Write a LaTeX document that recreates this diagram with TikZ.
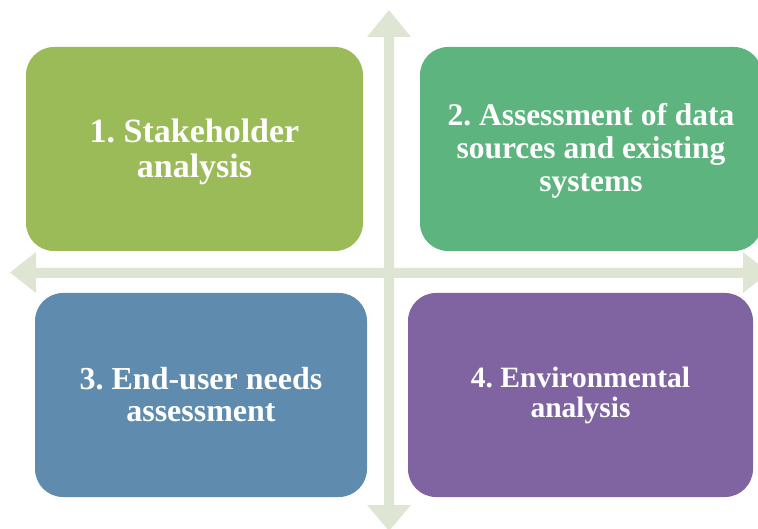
\documentclass[tikz,border=0pt]{standalone}
\usepackage{fontspec}
\setmainfont{Liberation Serif}
\frenchspacing
\definecolor{cgreen}{HTML}{9BBB59}
\definecolor{cteal}{HTML}{5DB47E}
\definecolor{cblue}{HTML}{5F8CAE}
\definecolor{cpurple}{HTML}{8064A2}
\definecolor{carrow}{HTML}{DEE6D3}
\tikzset{
  box/.style={inner sep=0pt, text=white, align=center},
  arrowshape/.style={fill=carrow, draw=none}
}
\begin{document}
\begin{tikzpicture}[x=1pt,y=-1pt]
\useasboundingbox (0,0) rectangle (758,529);
\clip (0,0) rectangle (758,529);
% horizontal double arrow
\fill[arrowshape] (10,272.5) -- (36,252) -- (36,268) -- (743,268) -- (743,252) -- (769,272.5) -- (743,293) -- (743,278) -- (36,278) -- (36,293) -- cycle;
% vertical double arrow
\fill[arrowshape] (389,10) -- (411,37) -- (394,37) -- (394,505) -- (411,505) -- (389,531) -- (367,505) -- (384,505) -- (384,37) -- (367,37) -- cycle;
% boxes
\fill[cgreen, rounded corners=28pt] (26,47) rectangle (363,251);
\fill[cteal, rounded corners=28pt] (420,47) rectangle (762,251);
\fill[cblue, rounded corners=28pt] (35,293) rectangle (367,497);
\fill[cpurple, rounded corners=28pt] (408,293) rectangle (753,497);
\node[box, font=\fontsize{34}{35}\selectfont\bfseries] (b1) at (194.5,152) {1. Stakeholder\\analysis};
\node[box, font=\fontsize{31.5}{33}\selectfont\bfseries] (b2) at (591,151) {2. Assessment of data\\sources and existing\\systems};
\node[box, font=\fontsize{32}{32}\selectfont\bfseries] (b3) at (201,395) {3. End-user needs\\assessment};
\node[box, font=\fontsize{29.5}{30}\selectfont\bfseries] (b4) at (580.5,395) {4. Environmental\\analysis};
\end{tikzpicture}
\end{document}
